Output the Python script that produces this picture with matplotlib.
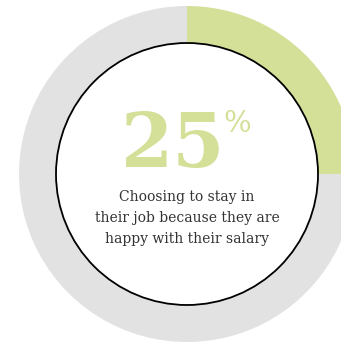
import matplotlib.pyplot as plt
from matplotlib.patches import Wedge, Circle

# data
share = [25, 75]
colors = ['#d4df98', '#e2e2e2']
big_label = '25'
caption = 'Choosing to stay in\ntheir job because they are\nhappy with their salary'

fig = plt.figure(figsize=(3.41, 3.44), dpi=100)
ax = fig.add_axes([0, 0, 1, 1])
ax.set_xlim(0, 341)
ax.set_ylim(344, 0)
ax.set_aspect('equal')
ax.axis('off')

cx, cy = 187, 174
r_out, r_in = 168, 131

# wedges go clockwise from 12 o'clock (y axis is flipped, so angles run clockwise)
start = -90
for val, col in zip(share, colors):
    span = 360 * val / sum(share)
    ax.add_patch(Wedge((cx, cy), r_out, start, start + span,
                       width=r_out - r_in, facecolor=col, edgecolor='none'))
    start += span

ax.add_patch(Circle((cx, cy), r_in, facecolor='white', edgecolor='black', linewidth=1.3))

ax.text(cx - 14, 167, big_label, ha='center', va='baseline', fontsize=54,
        family='DejaVu Serif', fontweight='bold', color=colors[0])
ax.text(cx + 50, 110, '%', ha='center', va='top', fontsize=21,
        family='DejaVu Serif', color=colors[0])

ax.text(cx, 218, caption, ha='center', va='center', fontsize=10,
        family='DejaVu Serif', color='#333333', linespacing=1.65)

fig.savefig('out.png', dpi=100)
